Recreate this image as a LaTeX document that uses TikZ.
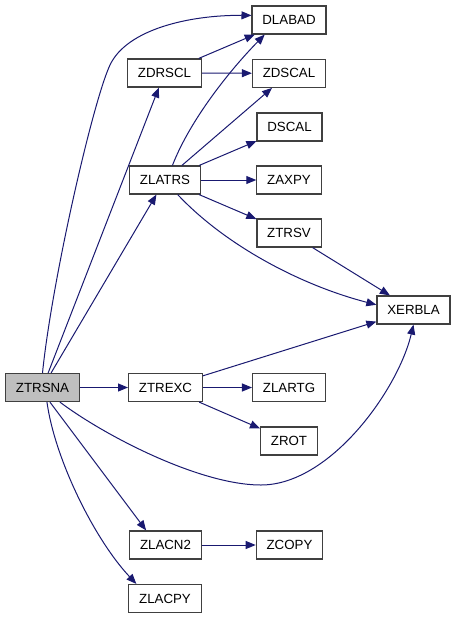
\documentclass[tikz,border=0pt]{standalone}
\usepackage{fontspec}
\setmainfont{Liberation Sans}
\usetikzlibrary{arrows.meta}
\definecolor{edgeblue}{HTML}{191970}
\definecolor{boxgray}{HTML}{BFBFBF}
\begin{document}
\begin{tikzpicture}[x=1pt,y=-1pt,
  fn/.style={rectangle,draw=black!75,line width=1.2pt,minimum height=28pt,inner xsep=10.3pt,inner ysep=0pt,font=\fontsize{13.3}{16}\selectfont},
  call/.style={draw=edgeblue,line width=1pt,-{Triangle[length=10pt,width=8pt]}}]
\useasboundingbox (0,0) rectangle (456,619);
\node[fn,fill=boxgray] (ZTRSNA) at (42.5,387.5) {ZTRSNA};
\node[fn] (ZDRSCL) at (164.5,73) {ZDRSCL};
\node[fn] (ZLATRS) at (165,180) {ZLATRS};
\node[fn] (ZTREXC) at (165.5,387.5) {ZTREXC};
\node[fn] (ZLACN2) at (165.5,545) {ZLACN2};
\node[fn] (ZLACPY) at (165,598.5) {ZLACPY};
\node[fn] (DLABAD) at (289,20) {DLABAD};
\node[fn] (ZDSCAL) at (289,73.3) {ZDSCAL};
\node[fn] (DSCAL) at (289.5,127) {DSCAL};
\node[fn] (ZAXPY) at (289,180) {ZAXPY};
\node[fn] (ZTRSV) at (289,233) {ZTRSV};
\node[fn] (XERBLA) at (413.5,310) {XERBLA};
\node[fn] (ZLARTG) at (289,387.5) {ZLARTG};
\node[fn] (ZROT) at (289,441) {ZROT};
\node[fn] (ZCOPY) at (289.5,545) {ZCOPY};

\draw[call] (ZTRSNA.north) .. controls (52,280) and (93,101) .. (110,65)
  .. controls (127,29) and (190,15) .. (DLABAD.173);
\draw[call] (ZTRSNA) -- (ZDRSCL);
\draw[call] (ZTRSNA) -- (ZLATRS);
\draw[call] (ZTRSNA) -- (ZTREXC);
\draw[call] (ZTRSNA.320) .. controls (105,436) and (200,485) .. (261,485)
  .. controls (330,485) and (398,390) .. (XERBLA.south);
\draw[call] (ZTRSNA.297) -- (ZLACN2.143);
\draw[call] (ZTRSNA.287) .. controls (55,460) and (95,540) .. (ZLACPY.153);
\draw[call] (ZDRSCL) -- (DLABAD);
\draw[call] (ZDRSCL) -- (ZDSCAL);
\draw[call] (ZLATRS.63) .. controls (190,120) and (230,70) .. (DLABAD.211);
\draw[call] (ZLATRS) -- (ZDSCAL);
\draw[call] (ZLATRS) -- (DSCAL);
\draw[call] (ZLATRS) -- (ZAXPY);
\draw[call] (ZLATRS) -- (ZTRSV);
\draw[call] (ZLATRS.311) .. controls (225,245) and (300,285) .. (XERBLA.172);
\draw[call] (ZTRSV) -- (XERBLA);
\draw[call] (ZTREXC) -- (XERBLA);
\draw[call] (ZTREXC) -- (ZLARTG);
\draw[call] (ZTREXC) -- (ZROT);
\draw[call] (ZLACN2) -- (ZCOPY);
\end{tikzpicture}
\end{document}
